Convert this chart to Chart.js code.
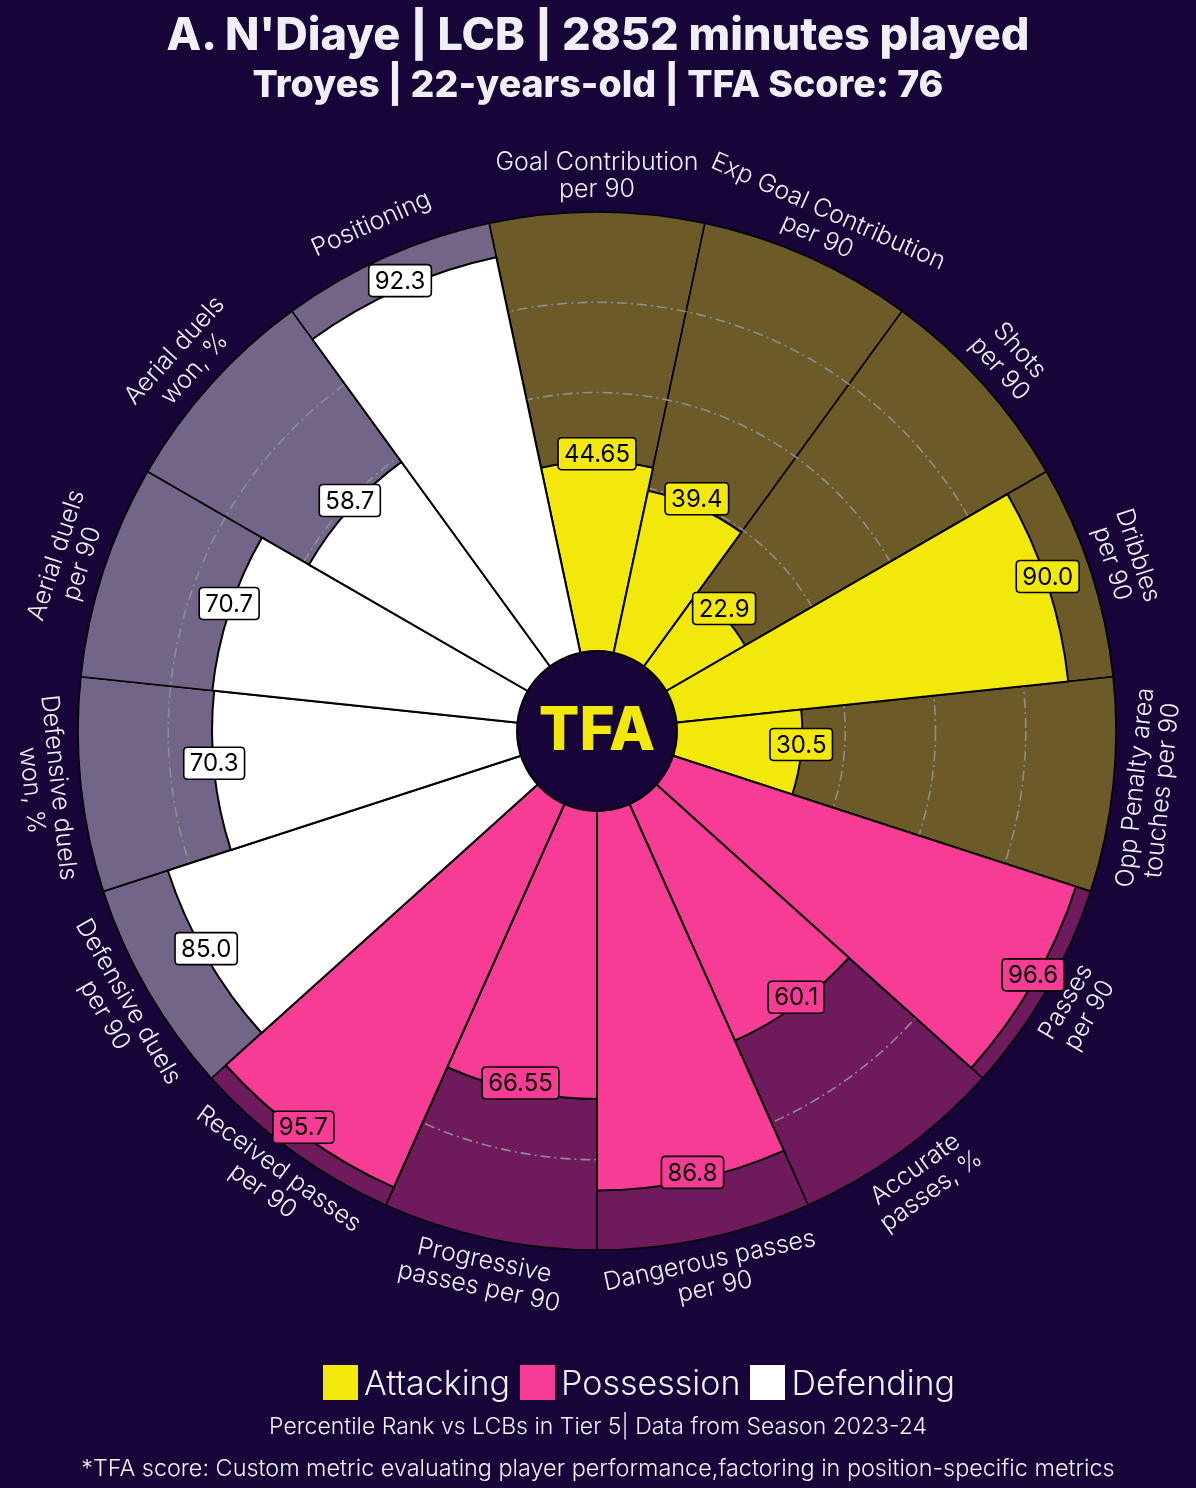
<!DOCTYPE html>
<html>
<head>
<meta charset="utf-8">
<script src="https://cdn.jsdelivr.net/npm/chart.js@4.4.1/dist/chart.umd.min.js"></script>
<style>
  html, body { margin: 0; padding: 0; background: #170438; }
  #wrap { position: relative; width: 1196px; height: 1488px; overflow: hidden; font-family: Inter, "Noto Sans", sans-serif; color: #f1eff6; }
  #c { position: absolute; left: 0; top: 0; }
  .title { position: absolute; left: 0; width: 1196px; text-align: center; font-weight: 800; white-space: nowrap; }
  #t1 { top: 6px; font-size: 45px; }
  #t2 { top: 61px; font-size: 37.5px; }
  #legend { position: absolute; left: 41px; width: 1196px; top: 1362px; display: flex; justify-content: center; align-items: center; font-size: 34px; font-weight: 300; }
  .sw { width: 35px; height: 35px; display: inline-block; margin-right: 6px; }
  .li { display: flex; align-items: center; margin: 0 5px; }
  .foot { position: absolute; left: 0; width: 1196px; text-align: center; font-size: 23px; font-weight: 300; white-space: nowrap; }
  #f1 { top: 1412px; }
  #f2 { top: 1453px; font-size: 23.4px; }
</style>
</head>
<body>
<div id="wrap">
  <canvas id="c" width="1196" height="1488"></canvas>
  <div class="title" id="t1">A. N'Diaye | LCB | 2852 minutes played</div>
  <div class="title" id="t2">Troyes | 22-years-old | TFA Score: 76</div>
  <div id="legend"></div>
  <div class="foot" id="f1">Percentile Rank vs LCBs in Tier 5| Data from Season 2023-24</div>
  <div class="foot" id="f2">*TFA score: Custom metric evaluating player performance,factoring in position-specific metrics</div>
</div>
<script>
// ---- data ----
const categories = [
  "Goal Contribution\nper 90",
  "Exp Goal Contribution\nper 90",
  "Shots\nper 90",
  "Dribbles\nper 90",
  "Opp Penalty area\ntouches per 90",
  "Passes\nper 90",
  "Accurate\npasses, %",
  "Dangerous passes\nper 90",
  "Progressive\npasses per 90",
  "Received passes\nper 90",
  "Defensive duels\nper 90",
  "Defensive duels\nwon, %",
  "Aerial duels\nper 90",
  "Aerial duels\nwon, %",
  "Positioning"
];
const percentiles = [44.65, 39.4, 22.9, 90.0, 30.5, 96.6, 60.1, 86.8, 66.55, 95.7, 85.0, 70.3, 70.7, 58.7, 92.3];
const valueLabels = ["44.65", "39.4", "22.9", "90.0", "30.5", "96.6", "60.1", "86.8", "66.55", "95.7", "85.0", "70.3", "70.7", "58.7", "92.3"];
const groups = ["Attacking", "Attacking", "Attacking", "Attacking", "Attacking",
  "Possession", "Possession", "Possession", "Possession", "Possession",
  "Defending", "Defending", "Defending", "Defending", "Defending"];
const groupNames = ["Attacking", "Possession", "Defending"];
const fullScale = [100, 100, 100, 100, 100, 100, 100, 100, 100, 100, 100, 100, 100, 100, 100];
const gridValues = [20, 40, 60, 80];

// ---- styles ----
const barColor = { Attacking: "#f2e80b", Possession: "#f73c96", Defending: "#ffffff" };
const bgColor = { Attacking: "#6c5a29", Possession: "#6e1a5c", Defending: "#736587" };

// legend
const leg = document.getElementById("legend");
groupNames.forEach(g => {
  const d = document.createElement("div"); d.className = "li";
  const s = document.createElement("span"); s.className = "sw"; s.style.background = barColor[g];
  const t = document.createElement("span"); t.textContent = g;
  d.appendChild(s); d.appendChild(t); leg.appendChild(d);
});

const gridPlugin = {
  id: "gridPlugin",
  beforeDatasetDraw(chart, args) {
    if (args.index !== 0) return;
    const s = chart.scales.r, ctx = chart.ctx;
    ctx.save();
    ctx.setLineDash([10, 4, 2, 4]);
    ctx.strokeStyle = "#8e8e8e";
    ctx.lineWidth = 1.6;
    gridValues.forEach(v => {
      ctx.beginPath();
      ctx.arc(s.xCenter, s.yCenter, s.getDistanceFromCenterForValue(v), 0, Math.PI * 2);
      ctx.stroke();
    });
    ctx.restore();
  }
};

function roundRect(ctx, x, y, w, h, r) {
  ctx.beginPath();
  ctx.moveTo(x + r, y);
  ctx.lineTo(x + w - r, y); ctx.quadraticCurveTo(x + w, y, x + w, y + r);
  ctx.lineTo(x + w, y + h - r); ctx.quadraticCurveTo(x + w, y + h, x + w - r, y + h);
  ctx.lineTo(x + r, y + h); ctx.quadraticCurveTo(x, y + h, x, y + h - r);
  ctx.lineTo(x, y + r); ctx.quadraticCurveTo(x, y, x + r, y);
  ctx.closePath();
}

const labelPlugin = {
  id: "labelPlugin",
  afterDatasetsDraw(chart) {
    const s = chart.scales.r, ctx = chart.ctx;
    const xc = s.xCenter, yc = s.yCenter;
    const meta = chart.getDatasetMeta(0);
    // centre disc
    ctx.save();
    ctx.beginPath();
    ctx.arc(xc, yc, 80, 0, Math.PI * 2);
    ctx.fillStyle = "#170438"; ctx.fill();
    ctx.lineWidth = 2; ctx.strokeStyle = "#000"; ctx.stroke();
    ctx.fillStyle = "#f2e80b";
    ctx.font = "800 60px Inter, sans-serif";
    ctx.textAlign = "center"; ctx.textBaseline = "middle";
    ctx.fillText("TFA", xc, yc + 1);
    ctx.restore();

    // value boxes
    ctx.save();
    ctx.font = "24px Inter, sans-serif";
    ctx.textAlign = "center"; ctx.textBaseline = "middle";
    meta.data.forEach((el, i) => {
      const mid = (el.startAngle + el.endAngle) / 2;
      const r = el.outerRadius;
      const x = xc + Math.cos(mid) * r;
      const y = yc + Math.sin(mid) * r - 8;
      const w = ctx.measureText(valueLabels[i]).width + 12;
      const h = 32;
      roundRect(ctx, x - w / 2, y - h / 2, w, h, 4);
      ctx.fillStyle = barColor[groups[i]]; ctx.fill();
      ctx.lineWidth = 1.6; ctx.strokeStyle = "#000"; ctx.stroke();
      ctx.fillStyle = "#000";
      ctx.fillText(valueLabels[i], x, y + 1);
    });
    ctx.restore();

    // category labels
    ctx.save();
    ctx.font = "300 25px Inter, sans-serif";
    ctx.fillStyle = "#f1eff6";
    ctx.textAlign = "center"; ctx.textBaseline = "middle";
    const R = s.getDistanceFromCenterForValue(100) + 36;
    const lh = 27;
    meta.data.forEach((el, i) => {
      const mid = (el.startAngle + el.endAngle) / 2;
      const x = xc + Math.cos(mid) * R;
      const y = yc + Math.sin(mid) * R;
      let top = mid + Math.PI / 2;
      top = ((top % (2 * Math.PI)) + 2 * Math.PI) % (2 * Math.PI);
      let rot = top;
      if (top > Math.PI / 2 && top < 3 * Math.PI / 2) rot = top - Math.PI;
      const lines = categories[i].split("\n");
      ctx.save();
      ctx.translate(x, y);
      ctx.rotate(rot);
      lines.forEach((ln, k) => {
        ctx.fillText(ln, 0, (k - (lines.length - 1) / 2) * lh);
      });
      ctx.restore();
    });
    ctx.restore();
  }
};

new Chart(document.getElementById("c"), {
  type: "polarArea",
  data: {
    labels: categories,
    datasets: [
      {
        data: percentiles,
        backgroundColor: groups.map(g => barColor[g]),
        borderColor: "#000000",
        borderWidth: 2
      },
      {
        data: fullScale,
        backgroundColor: groups.map(g => bgColor[g]),
        borderColor: "#000000",
        borderWidth: 1.6
      }
    ]
  },
  options: {
    responsive: false,
    animation: false,
    layout: { padding: { left: 78, right: 80, top: 212, bottom: 238 } },
    plugins: { legend: { display: false }, tooltip: { enabled: false } },
    scales: {
      r: {
        min: -15,
        max: 100,
        startAngle: -12,
        ticks: { display: false },
        grid: { display: false },
        angleLines: { display: false },
        pointLabels: { display: false }
      }
    }
  },
  plugins: [gridPlugin, labelPlugin]
});
</script>
</body>
</html>
